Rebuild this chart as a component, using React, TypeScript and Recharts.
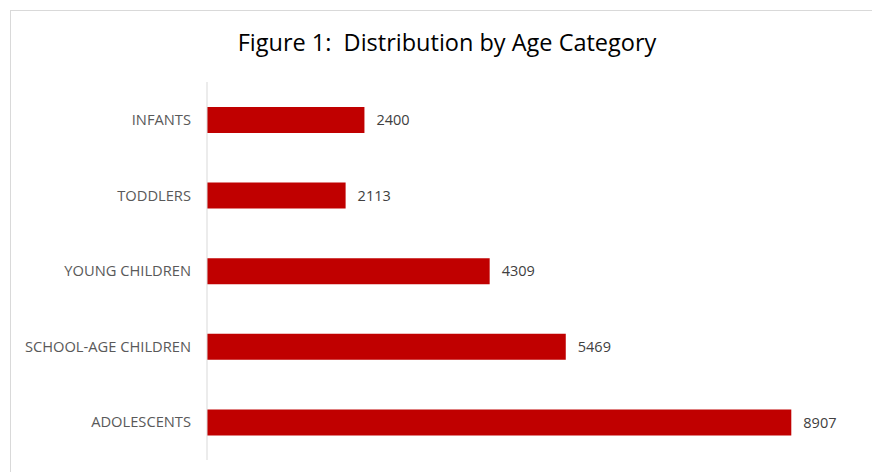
import React from "react";
import { BarChart, Bar, XAxis, YAxis, LabelList } from "recharts";

// Категории и значения
const categories: string[] = [
	"INFANTS",
	"TODDLERS",
	"YOUNG CHILDREN",
	"SCHOOL-AGE CHILDREN",
	"ADOLESCENTS",
];
const counts: number[] = [2400, 2113, 4309, 5469, 8907];

const data = categories.map((name, i) => ({ name, value: counts[i] }));

const FONT = "'Open Sans', 'Liberation Sans', sans-serif";

const App: React.FC = () => {
	return (
		<div
			style={{
				position: "fixed",
				left: 0,
				top: 0,
				width: 872,
				height: 472,
				overflow: "hidden",
				background: "#fff",
			}}
		>
			<div
				style={{
					position: "absolute",
					left: 10,
					top: 10,
					width: 900,
					height: 500,
					border: "1px solid #d9d9d9",
					boxSizing: "border-box",
				}}
			/>
			<div
				style={{
					position: "absolute",
					left: 0,
					width: 894,
					top: 26,
					textAlign: "center",
					fontFamily: FONT,
					fontSize: 23.5,
					color: "#000",
					whiteSpace: "pre",
				}}
			>
				{"Figure 1:  Distribution by Age Category"}
			</div>
			<div style={{ position: "absolute", left: 10, top: 10 }}>
				<BarChart
					width={862}
					height={462}
					data={data}
					layout="vertical"
					margin={{ top: 72, right: 9, left: 0, bottom: 12 }}
				>
					<XAxis type="number" domain={[0, 10000]} hide />
					<YAxis
						type="category"
						dataKey="name"
						width={197}
						axisLine={{ stroke: "#d9d9d9" }}
						tickLine={false}
						tickMargin={10}
						tick={{ fill: "#595959", fontSize: 14.7, fontFamily: FONT }}
						interval={0}
					/>
					<Bar dataKey="value" fill="#c00000" barSize={26} isAnimationActive={false}>
						<LabelList
							dataKey="value"
							position="right"
							offset={12}
							fill="#404040"
							fontSize={14.5}
							fontFamily={FONT}
						/>
					</Bar>
				</BarChart>
			</div>
		</div>
	);
};

export default App;
